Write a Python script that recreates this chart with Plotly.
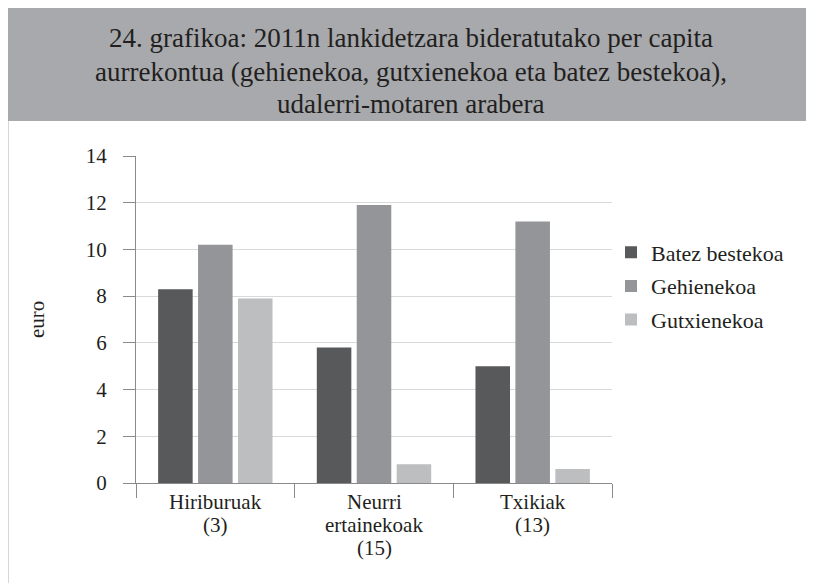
import plotly.graph_objects as go

categories = ["Hiriburuak (3)", "Neurri ertainekoak (15)", "Txikiak (13)"]
category_label_lines = [["Hiriburuak", "(3)"], ["Neurri", "ertainekoak", "(15)"], ["Txikiak", "(13)"]]
batez = [8.3, 5.8, 5.0]
gehien = [10.2, 11.9, 11.2]
gutxien = [7.9, 0.8, 0.6]
series_names = ["Batez bestekoa", "Gehienekoa", "Gutxienekoa"]
series_colors = ["#58595b", "#939598", "#bcbec0"]
y_ticks = [0, 2, 4, 6, 8, 10, 12, 14]
title_lines = [
    "24. grafikoa: 2011n lankidetzara bideratutako per capita",
    "aurrekontua (gehienekoa, gutxienekoa eta batez bestekoa),",
    "udalerri-motaren arabera",
]

FONT = "Liberation Serif, Times New Roman, DejaVu Serif, serif"
TXT = "#231f20"
OFF = 8  # page body margin
W, H = 814 - OFF, 583 - OFF
# plot area in reference (window) coordinates
PL, PR, PT, PB = 136, 612, 156, 483
L, R, T, B = PL - OFF, W - (PR - OFF), PT - OFF, H - (PB - OFF)
pw, ph = PR - PL, PB - PT

def px(x):
    return (x - PL) / pw

def py(y):
    return (PB - y) / ph

fig = go.Figure()
for name, vals, col in zip(series_names, [batez, gehien, gutxien], series_colors):
    fig.add_trace(go.Bar(x=categories, y=vals, name=name, marker_color=col,
                         marker_line_width=0, legendgroup=name))

fig.update_layout(
    width=W, height=H,
    margin=dict(l=L, r=R, t=T, b=B, autoexpand=False),
    paper_bgcolor="white", plot_bgcolor="white",
    barmode="group", bargap=0.245, bargroupgap=0.135,
    font=dict(family=FONT, size=21, color=TXT),
    showlegend=True,
    legend=dict(x=px(611), y=py(286), xanchor="left", yanchor="middle",
                font=dict(family=FONT, size=22, color=TXT),
                tracegroupgap=2, traceorder="grouped",
                bgcolor="rgba(0,0,0,0)"),
    xaxis=dict(showline=True, linecolor="#8a8a8a", linewidth=1.2,
               ticks="outside", tickson="boundaries", ticklen=14,
               tickcolor="#8a8a8a", tickwidth=1.2, showgrid=False,
               showticklabels=False),
    yaxis=dict(range=[0, 14], tickvals=y_ticks, showline=True,
               linecolor="#8a8a8a", linewidth=1.2, ticks="outside",
               ticklen=12, tickcolor="#8a8a8a", tickwidth=1.2,
               showgrid=True, gridcolor="#d9d9d9", gridwidth=1.2,
               zeroline=False, ticklabelstandoff=12,
               tickfont=dict(family=FONT, size=21, color=TXT)),
)

# category labels (one annotation per line, placed on the category axis)
for cat, lines in zip(categories, category_label_lines):
    for j, ln in enumerate(lines):
        fig.add_annotation(text=ln, xref="x", yref="paper", x=cat,
                           y=py(502 + 23 * j), xanchor="center", yanchor="middle",
                           showarrow=False, font=dict(family=FONT, size=21, color=TXT))

# header band and left frame line
fig.add_shape(type="rect", xref="paper", yref="paper",
              x0=px(7), x1=px(820), y0=py(121), y1=py(7),
              fillcolor="#a7a9ac", line_width=0, layer="below")
fig.add_shape(type="line", xref="paper", yref="paper",
              x0=px(8), x1=px(8), y0=py(121), y1=py(590),
              line=dict(color="#c8c8c8", width=1.5))

for line, yy in zip(title_lines, [38, 72, 104]):
    fig.add_annotation(text=line, xref="paper", yref="paper",
                       x=px(411), y=py(yy), xanchor="center", yanchor="middle",
                       showarrow=False,
                       font=dict(family=FONT, size=27, color=TXT))

fig.add_annotation(text="euro", xref="paper", yref="paper", x=px(37), y=py(320),
                   xanchor="center", yanchor="middle", textangle=-90,
                   showarrow=False, font=dict(family=FONT, size=21, color=TXT))

fig.write_html("out.html")
